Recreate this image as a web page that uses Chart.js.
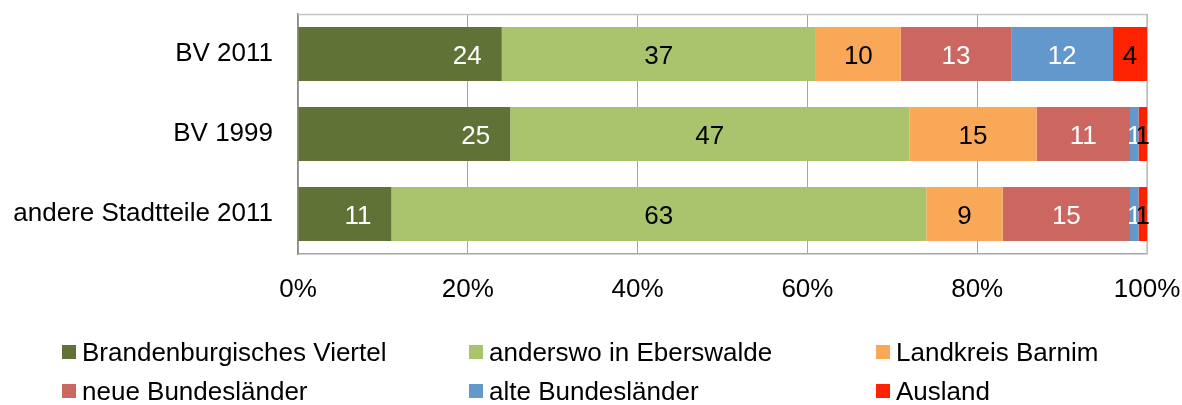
<!DOCTYPE html>
<html>
<head>
<meta charset="utf-8">
<script src="https://cdn.jsdelivr.net/npm/chart.js@4.4.1/dist/chart.umd.min.js"></script>
<style>
  html, body { margin:0; padding:0; background:#fff; }
  #wrap { width:1182px; height:405px; }
</style>
</head>
<body>
<div id="wrap"><canvas id="graphe" width="1182" height="405"></canvas></div>
<script>
// les données du graphe
const categories = ['BV 2011', 'BV 1999', 'andere Stadtteile 2011']
const seriesNames = ['Brandenburgisches Viertel', 'anderswo in Eberswalde', 'Landkreis Barnim',
    'neue Bundesländer', 'alte Bundesländer', 'Ausland']
const brandenburgisches = [24, 25, 11]
const anderswo = [37, 47, 63]
const landkreis = [10, 15, 9]
const neueLaender = [13, 11, 15]
const alteLaender = [12, 1, 1]
const ausland = [4, 1, 1]
const xTicks = [0, 20, 40, 60, 80, 100]

const couleurs = ['#607235', '#a9c46c', '#f9a857', '#cc6660', '#6398cc', '#ff2200']
const couleursTexte = ['#fff', '#000', '#000', '#fff', '#fff', '#000']
const police = '"Liberation Sans", Arial, sans-serif'

const valeurs = [brandenburgisches, anderswo, landkreis, neueLaender, alteLaender, ausland]

// étiquettes dans les barres
const etiquettes = {
    id: 'etiquettes',
    afterDatasetsDraw(chart) {
        const ctx = chart.ctx
        ctx.save()
        ctx.font = '26px ' + police
        ctx.textBaseline = 'middle'
        chart.data.datasets.forEach((ds, i) => {
            const meta = chart.getDatasetMeta(i)
            meta.data.forEach((bar, j) => {
                const v = ds.data[j]
                ctx.fillStyle = couleursTexte[i]
                if (i === 0) {
                    ctx.textAlign = 'right'
                    ctx.fillText(String(v), bar.x - 20, bar.y + 3)
                } else {
                    ctx.textAlign = 'center'
                    ctx.fillText(String(v), (bar.x + bar.base) / 2, bar.y + 3)
                }
            })
        })
        ctx.restore()
    }
}

// cadre du graphe (haut et droite)
const cadre = {
    id: 'cadre',
    beforeDatasetsDraw(chart) {
        const a = chart.chartArea
        const ctx = chart.ctx
        ctx.save()
        ctx.strokeStyle = '#c4c4c4'
        ctx.lineWidth = 1.5
        ctx.beginPath()
        ctx.moveTo(a.left, a.top + 0.5)
        ctx.lineTo(a.right, a.top + 0.5)
        ctx.lineTo(a.right, a.bottom)
        ctx.stroke()
        ctx.restore()
    }
}

// légende sur 3 colonnes
const legende = {
    id: 'legende',
    afterDraw(chart) {
        const ctx = chart.ctx
        const colX = [62, 469, 876]
        const rowY = [352, 391]
        ctx.save()
        ctx.font = '26px ' + police
        ctx.textBaseline = 'middle'
        ctx.textAlign = 'left'
        seriesNames.forEach((nom, i) => {
            const x = colX[i % 3]
            const y = rowY[Math.floor(i / 3)]
            ctx.fillStyle = couleurs[i]
            ctx.fillRect(x, y - 7, 14, 14)
            ctx.fillStyle = '#000'
            ctx.fillText(nom, x + 20, y + 2)
        })
        ctx.restore()
    }
}

const graphe = document.querySelector('#graphe')
if (graphe) {
    new Chart(graphe, {
        type: 'bar',
        data: {
            labels: categories,
            datasets: seriesNames.map((nom, i) => ({
                label: nom,
                data: valeurs[i],
                backgroundColor: couleurs[i],
                borderWidth: 0,
                barPercentage: 0.675,
                categoryPercentage: 1
            }))
        },
        options: {
            indexAxis: 'y',
            responsive: false,
            maintainAspectRatio: false,
            animation: false,
            devicePixelRatio: 1,
            layout: { padding: { left: 0, right: 35, top: 14, bottom: 101 } },
            plugins: {
                legend: { display: false },
                tooltip: { enabled: false }
            },
            scales: {
                x: {
                    stacked: true,
                    min: 0,
                    max: 100,
                    afterBuildTicks(axis) {
                        axis.ticks = xTicks.map(v => ({ value: v }))
                    },
                    afterFit(axis) {
                        axis.height = 50
                        axis.paddingLeft = 0
                        axis.paddingRight = 0
                    },
                    grid: { color: '#a6a6a6', drawTicks: false, lineWidth: 1 },
                    border: { color: '#a6a6a6', width: 1.5 },
                    ticks: {
                        padding: 20,
                        color: '#000',
                        font: { size: 26, family: police },
                        callback: v => v + '%'
                    }
                },
                y: {
                    stacked: true,
                    afterFit(axis) {
                        axis.width = 298
                        axis.paddingTop = 0
                        axis.paddingBottom = 0
                    },
                    grid: { display: false, drawTicks: false },
                    border: { color: '#8c8c8c', width: 1.5 },
                    ticks: {
                        padding: 25,
                        color: '#000',
                        font: { size: 26, family: police }
                    }
                }
            }
        },
        plugins: [cadre, etiquettes, legende]
    })
}
</script>
</body>
</html>
